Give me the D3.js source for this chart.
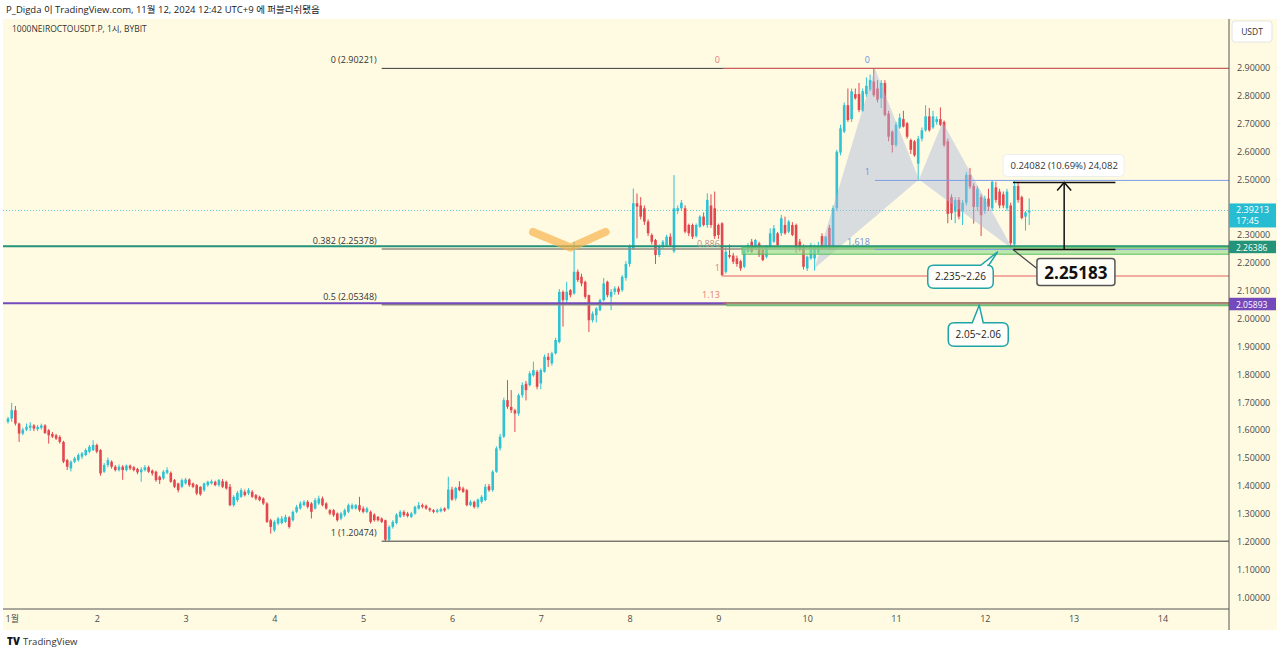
<!DOCTYPE html>
<html><head><meta charset="utf-8">
<script src="https://cdn.jsdelivr.net/npm/d3@7"></script>
<style>
html,body{margin:0;padding:0;background:#fff;}
svg{display:block;font-family:"Open Sans","Noto Sans","Noto Sans CJK KR",sans-serif;}
</style></head><body>
<svg id="c" width="1280" height="654"></svg>
<script>
// ---------- DATA ----------
// hourly candles from Nov 1 00:00 (index = hour), [open, high, low, close]
const ohlc = [
[1.633,1.651,1.627,1.645],[1.645,1.701,1.633,1.675],[1.675,1.69,1.62,1.627],[1.627,1.63,1.561,1.591],
[1.591,1.612,1.585,1.605],[1.605,1.627,1.60,1.615],[1.612,1.632,1.60,1.62],[1.62,1.625,1.60,1.609],
[1.607,1.622,1.60,1.615],[1.612,1.627,1.605,1.62],[1.62,1.625,1.59,1.593],[1.603,1.607,1.555,1.585],
[1.59,1.597,1.575,1.58],[1.585,1.59,1.568,1.573],[1.579,1.585,1.555,1.561],[1.561,1.565,1.485,1.49],
[1.496,1.50,1.46,1.472],[1.466,1.495,1.455,1.49],[1.49,1.508,1.485,1.502],[1.496,1.52,1.49,1.514],
[1.508,1.525,1.50,1.52],[1.514,1.538,1.51,1.532],[1.526,1.55,1.52,1.544],[1.532,1.567,1.528,1.55],
[1.55,1.555,1.52,1.526],[1.532,1.535,1.44,1.448],[1.454,1.485,1.45,1.478],[1.478,1.505,1.47,1.496],
[1.49,1.495,1.465,1.472],[1.472,1.478,1.455,1.46],[1.46,1.48,1.455,1.472],[1.472,1.478,1.425,1.46],
[1.46,1.48,1.455,1.476],[1.476,1.48,1.46,1.466],[1.47,1.475,1.455,1.46],[1.464,1.468,1.445,1.452],
[1.452,1.47,1.418,1.462],[1.46,1.478,1.455,1.47],[1.47,1.476,1.45,1.454],[1.458,1.462,1.44,1.448],
[1.454,1.458,1.418,1.424],[1.436,1.44,1.41,1.424],[1.43,1.46,1.425,1.454],[1.45,1.47,1.445,1.46],
[1.45,1.455,1.414,1.418],[1.424,1.428,1.395,1.40],[1.412,1.415,1.38,1.388],[1.40,1.43,1.395,1.424],
[1.412,1.432,1.408,1.426],[1.426,1.43,1.40,1.406],[1.412,1.415,1.395,1.40],[1.406,1.41,1.37,1.376],
[1.40,1.402,1.368,1.373],[1.388,1.415,1.382,1.412],[1.406,1.422,1.40,1.418],[1.412,1.426,1.408,1.42],
[1.418,1.422,1.402,1.406],[1.406,1.428,1.40,1.424],[1.42,1.428,1.395,1.40],[1.418,1.422,1.39,1.394],
[1.40,1.41,1.33,1.334],[1.334,1.37,1.328,1.364],[1.352,1.385,1.345,1.378],[1.364,1.395,1.36,1.388],
[1.382,1.39,1.365,1.37],[1.376,1.395,1.37,1.388],[1.382,1.388,1.36,1.364],[1.37,1.374,1.352,1.358],
[1.364,1.368,1.348,1.352],[1.358,1.362,1.335,1.34],[1.34,1.345,1.27,1.274],[1.28,1.285,1.232,1.256],
[1.244,1.28,1.238,1.274],[1.268,1.292,1.262,1.286],[1.27,1.295,1.265,1.286],[1.274,1.30,1.27,1.292],
[1.29,1.295,1.25,1.256],[1.28,1.315,1.275,1.31],[1.31,1.335,1.305,1.328],[1.322,1.348,1.318,1.34],
[1.334,1.352,1.33,1.346],[1.346,1.352,1.322,1.328],[1.34,1.345,1.286,1.31],[1.322,1.36,1.318,1.352],
[1.34,1.368,1.335,1.358],[1.358,1.365,1.33,1.334],[1.34,1.345,1.318,1.322],[1.316,1.32,1.298,1.304],
[1.316,1.32,1.292,1.298],[1.304,1.308,1.275,1.28],[1.286,1.31,1.28,1.304],[1.298,1.322,1.292,1.316],
[1.31,1.34,1.305,1.334],[1.322,1.34,1.318,1.334],[1.322,1.338,1.318,1.334],[1.334,1.364,1.31,1.316],
[1.322,1.33,1.305,1.31],[1.31,1.328,1.305,1.322],[1.31,1.315,1.268,1.274],[1.30,1.305,1.275,1.28],
[1.292,1.295,1.275,1.28],[1.286,1.29,1.27,1.274],[1.28,1.282,1.2047,1.21],[1.21,1.262,1.2047,1.256],
[1.256,1.28,1.25,1.274],[1.27,1.305,1.265,1.30],[1.292,1.316,1.288,1.31],[1.31,1.316,1.292,1.298],
[1.304,1.31,1.29,1.295],[1.292,1.31,1.288,1.304],[1.304,1.332,1.30,1.328],[1.322,1.345,1.318,1.334],
[1.334,1.34,1.322,1.328],[1.332,1.336,1.318,1.322],[1.322,1.326,1.31,1.316],[1.316,1.32,1.305,1.31],
[1.31,1.322,1.305,1.316],[1.312,1.326,1.308,1.32],[1.322,1.326,1.31,1.315],[1.322,1.436,1.318,1.39],
[1.39,1.40,1.35,1.354],[1.358,1.40,1.35,1.396],[1.40,1.42,1.384,1.388],[1.394,1.40,1.378,1.382],
[1.388,1.392,1.33,1.334],[1.334,1.352,1.33,1.346],[1.346,1.35,1.322,1.328],[1.328,1.358,1.322,1.354],
[1.346,1.37,1.34,1.364],[1.352,1.41,1.348,1.40],[1.402,1.41,1.382,1.388],[1.388,1.46,1.382,1.454],
[1.454,1.545,1.45,1.538],[1.538,1.59,1.53,1.58],[1.58,1.72,1.575,1.711],[1.711,1.783,1.68,1.687],
[1.687,1.747,1.665,1.675],[1.675,1.68,1.597,1.663],[1.663,1.735,1.655,1.729],[1.729,1.775,1.72,1.765],
[1.77,1.78,1.71,1.747],[1.765,1.815,1.76,1.807],[1.80,1.849,1.795,1.819],[1.813,1.82,1.75,1.759],
[1.771,1.825,1.75,1.819],[1.813,1.875,1.81,1.867],[1.867,1.88,1.83,1.855],[1.843,1.885,1.835,1.879],
[1.879,1.935,1.875,1.927],[1.92,2.11,1.915,2.10],[2.10,2.105,1.975,2.07],[2.07,2.136,2.06,2.10],
[2.106,2.11,2.08,2.088],[2.094,2.28,2.09,2.172],[2.172,2.18,2.135,2.142],[2.154,2.165,2.12,2.13],
[2.136,2.14,2.075,2.082],[2.088,2.09,1.956,1.998],[1.998,2.03,1.99,2.022],[2.016,2.045,1.99,2.04],
[2.034,2.075,2.03,2.07],[2.07,2.15,2.065,2.13],[2.136,2.14,2.08,2.088],[2.082,2.11,2.034,2.10],
[2.10,2.12,2.09,2.112],[2.112,2.12,2.09,2.10],[2.106,2.16,2.10,2.154],[2.15,2.21,2.14,2.20],
[2.20,2.27,2.19,2.262],[2.256,2.471,2.25,2.418],[2.418,2.453,2.292,2.406],[2.41,2.44,2.36,2.37],
[2.40,2.41,2.34,2.352],[2.352,2.36,2.30,2.31],[2.304,2.31,2.27,2.28],[2.286,2.29,2.20,2.232],
[2.232,2.27,2.225,2.262],[2.262,2.286,2.255,2.28],[2.268,2.305,2.262,2.298],[2.298,2.31,2.262,2.268],
[2.245,2.519,2.24,2.40],[2.39,2.41,2.38,2.40],[2.40,2.43,2.39,2.42],[2.40,2.41,2.31,2.316],
[2.34,2.345,2.30,2.31],[2.34,2.345,2.29,2.298],[2.30,2.345,2.295,2.34],[2.334,2.375,2.33,2.37],
[2.37,2.385,2.335,2.34],[2.34,2.454,2.33,2.43],[2.41,2.45,2.33,2.34],[2.40,2.46,2.29,2.30],
[2.34,2.345,2.29,2.304],[2.346,2.35,2.155,2.16],[2.172,2.26,2.165,2.244],[2.232,2.27,2.22,2.226],
[2.23,2.24,2.20,2.208],[2.22,2.23,2.19,2.20],[2.21,2.215,2.175,2.184],[2.19,2.26,2.185,2.256],
[2.244,2.275,2.24,2.268],[2.28,2.29,2.24,2.244],[2.256,2.29,2.25,2.286],[2.274,2.28,2.225,2.232],
[2.25,2.26,2.21,2.214],[2.226,2.268,2.22,2.262],[2.262,2.328,2.255,2.31],[2.28,2.34,2.275,2.328],
[2.31,2.315,2.26,2.268],[2.31,2.376,2.30,2.364],[2.34,2.37,2.305,2.31],[2.316,2.358,2.31,2.352],
[2.34,2.35,2.30,2.304],[2.34,2.345,2.24,2.256],[2.28,2.29,2.245,2.25],[2.262,2.27,2.18,2.19],
[2.184,2.23,2.175,2.226],[2.22,2.276,2.215,2.268],[2.22,2.27,2.176,2.26],[2.24,2.28,2.235,2.264],
[2.30,2.31,2.25,2.256],[2.262,2.30,2.255,2.298],[2.33,2.34,2.25,2.256],[2.26,2.41,2.255,2.40],
[2.40,2.61,2.39,2.603],[2.60,2.70,2.59,2.687],[2.675,2.78,2.67,2.77],[2.77,2.83,2.71,2.717],
[2.72,2.83,2.71,2.82],[2.81,2.83,2.79,2.795],[2.81,2.85,2.745,2.753],[2.75,2.83,2.745,2.82],
[2.81,2.87,2.80,2.84],[2.826,2.88,2.82,2.86],[2.855,2.90221,2.80,2.806],[2.83,2.86,2.78,2.79],
[2.795,2.86,2.76,2.85],[2.85,2.86,2.73,2.735],[2.74,2.75,2.64,2.657],[2.675,2.68,2.60,2.627],
[2.627,2.71,2.62,2.70],[2.69,2.74,2.685,2.725],[2.72,2.75,2.69,2.693],[2.705,2.71,2.65,2.657],
[2.645,2.65,2.595,2.61],[2.64,2.645,2.585,2.59],[2.56,2.66,2.503,2.65],[2.65,2.69,2.64,2.68],
[2.68,2.77,2.675,2.73],[2.73,2.76,2.675,2.68],[2.69,2.75,2.685,2.73],[2.71,2.73,2.70,2.72],
[2.72,2.762,2.695,2.70],[2.71,2.715,2.62,2.627],[2.64,2.65,2.346,2.38],[2.44,2.45,2.358,2.382],
[2.388,2.44,2.346,2.43],[2.43,2.44,2.36,2.37],[2.388,2.43,2.34,2.42],[2.42,2.53,2.41,2.52],
[2.52,2.545,2.47,2.478],[2.48,2.49,2.345,2.405],[2.405,2.48,2.39,2.47],[2.44,2.45,2.30,2.375],
[2.39,2.445,2.38,2.435],[2.435,2.47,2.39,2.405],[2.40,2.50,2.39,2.495],[2.475,2.495,2.42,2.43],
[2.46,2.47,2.40,2.41],[2.45,2.46,2.40,2.41],[2.40,2.47,2.39,2.46],[2.41,2.42,2.25183,2.275],
[2.27,2.50,2.255,2.48],[2.48,2.495,2.42,2.43],[2.44,2.445,2.36,2.365],[2.37,2.39,2.32,2.385],
[2.385,2.435,2.34,2.39213]
];
// price axis labels (2.4 is hidden under the last-price tag in the reference)
const priceTicks = [1.0,1.1,1.2,1.3,1.4,1.5,1.6,1.7,1.8,1.9,2.0,2.1,2.2,2.3,2.5,2.6,2.7,2.8,2.9];
const dayTicks = [0,24,48,72,96,120,144,168,192,216,240,264,288,312];
const dayLabels = ["1월","2","3","4","5","6","7","8","9","10","11","12","13","14"];
// fib retracement (black) anchored at hour 101
const fibRatios = ["0","0.382","0.5","1"];
const fibValues = [2.90221,2.25378,2.05348,1.20474];
const fibStart = 101;
// red fib, anchored at hour 193
const redFibRatios = ["0","0.886","1","1.13"];
const redFibValues = [2.90221,2.2433,2.1568,2.0598];
const redFibStart = 193.2;
// blue fib, anchored at hour 234.3
const blueFibRatios = ["0","1","1.618"];
const blueFibValues = [2.90221,2.50,2.2518];
const blueFibStart = 234.3;
// full width horizontal lines
const hLineValues = [2.26386,2.05893];
const hLineColors = ["#23937a","#7449bb"];
// green zones [low, high, startHour]
const zoneLow = [2.235,2.05];
const zoneHigh = [2.26,2.06];
const zoneStart = [198.4,194.3];
// harmonic XABCD points [hour, price]
const harmonicPts = [[218,2.185],[234.3,2.90221],[246.2,2.503],[252.6,2.71],[271.6,2.25183]];
// orange "V" mark
const vMark = [[141.9,2.315],[152,2.259],[161.5,2.315]];
const lastPrice = 2.39213, countdown = "17:45";
const measureLow = 2.25183, measureHigh = 2.49265, measureFrom = 271.6, measureTo = 299.3;
const measureText = "0.24082 (10.69%) 24,082";

// ---------- SCALES ----------
const svg = d3.select("#c");
const x = d3.scaleLinear().domain([0, 329.73]).range([8, 1228]);
const y = d3.scaleLinear().domain([1.0, 2.9]).range([598.2, 69]);
const UP = "#2ec2d5", DOWN = "#e3474f";

svg.append("rect").attr("width",1280).attr("height",654).attr("fill","#fff");
svg.append("rect").attr("x",3).attr("y",19).attr("width",1274).attr("height",611).attr("fill","#fffbe2");

svg.append("defs").append("clipPath").attr("id","plot")
  .append("rect").attr("x",3).attr("y",19).attr("width",1226).attr("height",590);

const plot = svg.append("g").attr("clip-path","url(#plot)");

// current price dotted line
plot.append("line").attr("x1",3).attr("x2",1229).attr("y1",y(lastPrice)).attr("y2",y(lastPrice))
  .attr("stroke","#5fc9d6").attr("stroke-width",1).attr("stroke-dasharray","1,2");

// candles
const cg = plot.append("g");
const bw = 2.6;
cg.selectAll("line.w").data(ohlc).join("line")
  .attr("x1",(d,i)=>x(i)).attr("x2",(d,i)=>x(i))
  .attr("y1",d=>y(d[1])).attr("y2",d=>y(d[2]))
  .attr("stroke",d=>d[3]>=d[0]?UP:DOWN).attr("stroke-width",1);
cg.selectAll("rect.b").data(ohlc).join("rect")
  .attr("x",(d,i)=>x(i)-bw/2).attr("width",bw)
  .attr("y",d=>y(Math.max(d[0],d[3])))
  .attr("height",d=>Math.max(1,Math.abs(y(d[0])-y(d[3]))))
  .attr("fill",d=>d[3]>=d[0]?UP:DOWN);

// harmonic fill
const hp = harmonicPts.map(p=>[x(p[0]),y(p[1])]);
plot.append("path").attr("d",d3.line()([hp[0],hp[1],hp[2]])+"Z")
  .attr("fill","#aab6dc").attr("fill-opacity",0.45).attr("stroke","none");
plot.append("path").attr("d",d3.line()([hp[2],hp[3],hp[4]])+"Z")
  .attr("fill","#aab6dc").attr("fill-opacity",0.45).attr("stroke","none");

// black fib
fibValues.forEach((v,i)=>{
  const thick = (i===1||i===2);
  plot.append("line").attr("x1",x(fibStart)).attr("x2",1229).attr("y1",y(v)).attr("y2",y(v))
    .attr("stroke",thick?"#8e8c80":"#3a3a3a").attr("stroke-width",thick?1.5:1);
  svg.append("text").attr("x",x(fibStart)-5).attr("y",y(v)-5).attr("text-anchor","end")
    .attr("font-size",9).attr("fill","#333").text(`${fibRatios[i]} (${v.toFixed(5)})`);
});

// full width lines
hLineValues.forEach((v,i)=>{
  plot.append("line").attr("x1",3).attr("x2",1229).attr("y1",y(v)).attr("y2",y(v))
    .attr("stroke",hLineColors[i]).attr("stroke-width",2);
});

// zones
zoneLow.forEach((lo,i)=>{
  plot.append("rect").attr("x",x(zoneStart[i])).attr("width",1229-x(zoneStart[i]))
    .attr("y",y(zoneHigh[i])).attr("height",y(lo)-y(zoneHigh[i]))
    .attr("fill","#8fdc8a").attr("fill-opacity",0.6).attr("stroke","#5cbf63").attr("stroke-width",1);
});

// red fib
redFibValues.forEach((v,i)=>{
  plot.append("line").attr("x1",x(redFibStart)).attr("x2",1229).attr("y1",y(v)).attr("y2",y(v))
    .attr("stroke","#e2615f").attr("stroke-width",1).attr("stroke-opacity",i===1?0:1);
  svg.append("text").attr("x",x(redFibStart)-3).attr("y",y(v)-5).attr("text-anchor","end")
    .attr("font-size",9).attr("fill",i===1?"#b79184":"#e47b78").text(redFibRatios[i]);
});

// blue fib
blueFibValues.forEach((v,i)=>{
  plot.append("line").attr("x1",x(blueFibStart)).attr("x2",1229).attr("y1",y(v)).attr("y2",y(v))
    .attr("stroke","#7f9de6").attr("stroke-width",1).attr("stroke-opacity",i===0?0:1);
  svg.append("text").attr("x",x(blueFibStart)-5).attr("y",y(v)-5).attr("text-anchor","end")
    .attr("font-size",9).attr("fill","#6f8fe0").text(blueFibRatios[i]);
});

// orange V
plot.append("path").attr("d",d3.line()(vMark.map(p=>[x(p[0]),y(p[1])])))
  .attr("fill","none").attr("stroke","#f7b24c").attr("stroke-opacity",0.7)
  .attr("stroke-width",8).attr("stroke-linecap","round").attr("stroke-linejoin","round");

// measure tool
const mx0 = x(measureFrom), mx1 = x(measureTo), mxm = (mx0+mx1)/2;
[measureLow,measureHigh].forEach(v=>{
  plot.append("line").attr("x1",mx0).attr("x2",mx1).attr("y1",y(v)).attr("y2",y(v))
    .attr("stroke","#111").attr("stroke-width",1.5);
});
plot.append("line").attr("x1",mxm).attr("x2",mxm).attr("y1",y(measureLow)).attr("y2",y(measureHigh))
  .attr("stroke","#111").attr("stroke-width",1.5);
plot.append("path").attr("d",`M${mxm-7},${y(measureHigh)+8} L${mxm},${y(measureHigh)} L${mxm+7},${y(measureHigh)+8}`)
  .attr("fill","none").attr("stroke","#111").attr("stroke-width",1.5);
const mlb = svg.append("g");
mlb.append("rect").attr("x",mxm-61).attr("y",y(measureHigh)-28).attr("width",121).attr("height",22)
  .attr("rx",4).attr("fill","#fff").attr("stroke","#eeeeee");
mlb.append("text").attr("x",mxm).attr("y",y(measureHigh)-13.5).attr("text-anchor","middle")
  .attr("font-size",9.5).attr("fill","#333").text(measureText);

// 2.25183 callout
const dX = hp[4][0], dY = hp[4][1];
svg.append("line").attr("x1",dX).attr("y1",dY).attr("x2",dX+24).attr("y2",dY+19)
  .attr("stroke","#444").attr("stroke-width",1.2);
svg.append("rect").attr("x",dX+24).attr("y",dY+9).attr("width",78).attr("height",27).attr("rx",3)
  .attr("fill","#fffef6").attr("stroke","#555").attr("stroke-width",1.5);
svg.append("text").attr("x",dX+63).attr("y",dY+29).attr("text-anchor","middle")
  .attr("font-size",17).attr("font-weight","bold").attr("fill","#111").text("2.25183");

// speech callouts
function callout(ax, ay, x0, y0, x1, y1, tb0, tb1, label){
  const r = 6;
  const d = `M${x0+r},${y0} L${tb0},${y0} L${ax},${ay} L${tb1},${y0} L${x1-r},${y0} Q${x1},${y0} ${x1},${y0+r} L${x1},${y1-r} Q${x1},${y1} ${x1-r},${y1} L${x0+r},${y1} Q${x0},${y1} ${x0},${y1-r} L${x0},${y0+r} Q${x0},${y0} ${x0+r},${y0} Z`;
  svg.append("path").attr("d",d).attr("fill","#fffef8").attr("stroke","#20a3a6").attr("stroke-width",1.5);
  svg.append("text").attr("x",(x0+x1)/2).attr("y",(y0+y1)/2+3.5).attr("text-anchor","middle")
    .attr("font-size",10).attr("fill","#222").text(label);
}
{
  const ax = x(267.5), ay = y(2.244);
  callout(ax, ay, ax-70, ay+13.5, ax-4.5, ay+36.5, ax-17, ax-9, "2.235~2.26");
  const bx = x(262.5), by = y(2.052);
  callout(bx, by, bx-31, by+17.5, bx+29, by+41, bx-7, bx+4, "2.05~2.06");
}

// ---------- AXES ----------
svg.append("line").attr("x1",1229).attr("x2",1229).attr("y1",19).attr("y2",630).attr("stroke","#555").attr("stroke-width",1);
svg.append("line").attr("x1",3).attr("x2",1229).attr("y1",609).attr("y2",609).attr("stroke","#555").attr("stroke-width",1);

const ya = svg.append("g").attr("transform","translate(1229,0)")
  .call(d3.axisRight(y).tickValues(priceTicks).tickFormat(d3.format(".5f")).tickSize(0).tickPadding(8));
ya.select(".domain").remove();
ya.selectAll("text").attr("font-size",9).attr("fill","#4a4a4a").attr("font-family","Open Sans, sans-serif")
  .attr("dy","0.2em");

const xa = svg.append("g").attr("transform","translate(0,609)")
  .call(d3.axisBottom(x).tickValues(dayTicks).tickFormat((d,i)=>dayLabels[i]).tickSize(0).tickPadding(7));
xa.select(".domain").remove();
xa.selectAll("text").attr("font-size",9).attr("fill","#4a4a4a").attr("font-family","Open Sans, Noto Sans CJK KR, sans-serif");
xa.selectAll("text").filter((d,i)=>i===0).attr("text-anchor","start").attr("dx",-3);

// axis label tags
function priceTag(v, color, lines, top, h, fs, base){
  const yc = y(v);
  const g = svg.append("g");
  g.append("rect").attr("x",1229).attr("y",yc-top).attr("width",47).attr("height",h).attr("fill",color);
  lines.forEach((t,k)=>{
    g.append("text").attr("x",1236).attr("y",yc+base+k*10.5).attr("font-size",fs).attr("fill","#fff").text(t);
  });
}
priceTag(lastPrice, "#26bcd2", [d3.format(".5f")(lastPrice), countdown], 7, 24, 9, 3);
priceTag(hLineValues[0], hLineColors[0], [d3.format(".5f")(hLineValues[0])], 5.5, 12.5, 8.5, 4.5);
priceTag(hLineValues[1], hLineColors[1], [d3.format(".5f")(hLineValues[1])], 5.5, 12.5, 8.5, 4.5);

// USDT box
svg.append("rect").attr("x",1232).attr("y",21).attr("width",40).attr("height",21).attr("rx",3)
  .attr("fill","#fff").attr("stroke","#e4e4e4");
svg.append("text").attr("x",1252).attr("y",35).attr("text-anchor","middle").attr("font-size",8.5).attr("fill","#333").text("USDT");

// header texts
svg.append("text").attr("x",6).attr("y",13).attr("font-size",9.5).attr("fill","#222")
  .text("P_Digda 이 TradingView.com, 11월 12, 2024 12:42 UTC+9 에 퍼블리쉬됐음");
svg.append("text").attr("x",12).attr("y",32).attr("font-size",8.5).attr("fill","#333")
  .text("1000NEIROCTOUSDT.P, 1시, BYBIT");

// footer logo
svg.append("text").attr("x",7).attr("y",645).attr("font-size",10).attr("font-weight",900).attr("fill","#131722").text("TV");
svg.append("text").attr("x",23).attr("y",645).attr("font-size",9.5).attr("fill","#333").text("TradingView");
</script>
</body></html>
